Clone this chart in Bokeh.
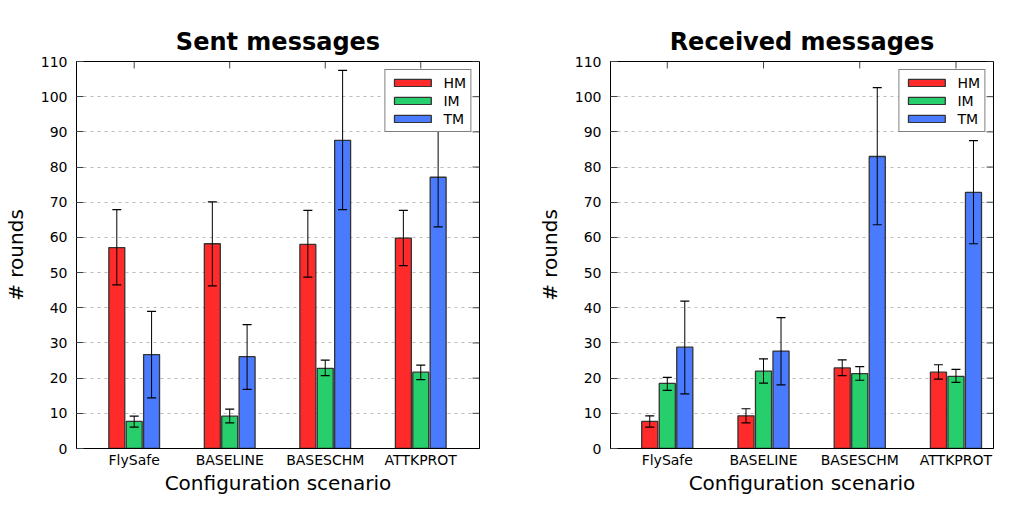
import numpy as np
from bokeh.plotting import figure
from bokeh.models import (ColumnDataSource, Range1d, FixedTicker, Whisker, LinearAxis,
                          TeeHead, Legend, LegendItem, Title)
from bokeh.layouts import row
from bokeh.embed import file_html
from bokeh.resources import INLINE

categories = ["FlySafe", "BASELINE", "BASESCHM", "ATTKPROT"]
series = ["HM", "IM", "TM"]

# Sent messages: mean, lower error, upper error
sent_HM = [57.1, 58.2, 58.0, 59.8]
sent_HM_lo = [46.5, 46.2, 48.7, 52.0]
sent_HM_hi = [67.9, 70.1, 67.7, 67.7]
sent_IM = [7.7, 9.2, 22.8, 21.7]
sent_IM_lo = [6.1, 7.3, 20.7, 19.6]
sent_IM_hi = [9.2, 11.2, 25.1, 23.7]
sent_TM = [26.7, 26.1, 87.6, 77.1]
sent_TM_lo = [14.4, 16.8, 67.9, 63.0]
sent_TM_hi = [39.0, 35.2, 107.5, 90.9]

# Received messages
recv_HM = [7.7, 9.3, 22.9, 21.7]
recv_HM_lo = [6.1, 7.3, 20.7, 19.7]
recv_HM_hi = [9.3, 11.3, 25.2, 23.8]
recv_IM = [18.5, 22.0, 21.3, 20.5]
recv_IM_lo = [16.5, 18.6, 19.4, 18.8]
recv_IM_hi = [20.2, 25.5, 23.3, 22.5]
recv_TM = [28.8, 27.7, 83.0, 72.8]
recv_TM_lo = [15.5, 18.1, 63.6, 58.2]
recv_TM_hi = [41.9, 37.2, 102.6, 87.5]

y_ticks = list(range(0, 111, 10))
x_label = "Configuration scenario"
y_label = "# rounds"

colors = {"HM": "#ff2a2a", "IM": "#26cf6b", "TM": "#4a7bff"}
offsets = {"HM": -0.182, "IM": 0.0, "TM": 0.182}
BAR_W = 0.167
FONT = "DejaVu Sans"


def make_plot(title, data, width, frame_w, x_start, x_end, title_offset=0):
    p = figure(width=width, height=497, output_backend="svg", toolbar_location=None,
               title=None,
               x_range=Range1d(x_start, x_end), y_range=Range1d(0, 110),
               min_border_left=74, min_border_right=width - 74 - frame_w,
               min_border_top=61, min_border_bottom=0)

    # empty spacer axis between title and frame (no ticks are drawn)
    spacer = LinearAxis(ticker=FixedTicker(ticks=[]), major_tick_out=20, major_tick_in=0,
                        major_label_standoff=0, axis_line_alpha=0,
                        major_tick_line_alpha=0, minor_tick_line_alpha=0)
    p.add_layout(spacer, "above")
    p.add_layout(Title(text=title, text_font=FONT, text_font_size="24px",
                       text_font_style="bold", text_color="black", align="center",
                       standoff=12, offset=title_offset), "above")

    pos = np.arange(1, len(categories) + 1)
    items = []
    for s in series:
        mean, lo, hi = data[s]
        src = ColumnDataSource(dict(x=pos + offsets[s], top=mean, lower=lo, upper=hi,
                                    cat=categories))
        r = p.vbar(x="x", top="top", bottom=0, width=BAR_W, source=src,
                   fill_color=colors[s], line_color="#333333", line_width=1.3)
        items.append(LegendItem(label=s, renderers=[r]))
        w = Whisker(base="x", lower="lower", upper="upper", source=src,
                    line_color="black", line_width=1, level="overlay",
                    upper_head=TeeHead(size=9, line_color="black", line_width=1.2),
                    lower_head=TeeHead(size=9, line_color="black", line_width=1.2))
        p.add_layout(w)

    # mirrored tick marks (top and right), drawn inward
    p.ray(x=x_end, y=y_ticks, length=7, length_units="screen", angle=np.pi,
          line_color="#444444", line_width=1)
    p.ray(x=pos, y=110, length=7, length_units="screen", angle=-np.pi / 2,
          line_color="#444444", line_width=1)

    # bottom axis
    xa = p.below[0]
    xa.ticker = FixedTicker(ticks=list(pos))
    xa.major_label_overrides = {int(i): c for i, c in zip(pos, categories)}
    xa.major_label_text_font = FONT
    xa.major_label_text_font_size = "14px"
    xa.major_label_text_color = "black"
    xa.major_label_standoff = 3
    xa.major_tick_in = 0
    xa.major_tick_out = 0
    xa.minor_tick_line_color = None
    xa.axis_line_color = "black"
    xa.axis_label = x_label
    xa.axis_label_text_font = FONT
    xa.axis_label_text_font_size = "20px"
    xa.axis_label_text_font_style = "normal"
    xa.axis_label_text_color = "black"
    xa.axis_label_standoff = 0

    # left axis
    ya = p.left[0]
    ya.ticker = FixedTicker(ticks=y_ticks)
    ya.major_label_text_font = FONT
    ya.major_label_text_font_size = "14px"
    ya.major_label_text_color = "black"
    ya.major_label_standoff = 9
    ya.major_tick_in = 7
    ya.major_tick_out = 0
    ya.minor_tick_line_color = None
    ya.axis_line_color = "black"
    ya.major_tick_line_color = "#444444"
    ya.axis_label = y_label
    ya.axis_label_text_font = FONT
    ya.axis_label_text_font_size = "20px"
    ya.axis_label_text_font_style = "normal"
    ya.axis_label_text_color = "black"
    ya.axis_label_standoff = 10

    p.xgrid.grid_line_color = None
    p.ygrid.ticker = FixedTicker(ticks=y_ticks[1:-1])
    p.ygrid.grid_line_color = "#bbbbbb"
    p.ygrid.grid_line_dash = "3 4"
    p.ygrid.grid_line_width = 1

    p.outline_line_color = "black"
    p.outline_line_width = 1
    p.outline_line_alpha = 1

    legend = Legend(items=items, location="top_right")
    legend.label_text_font = FONT
    legend.label_text_font_size = "14px"
    legend.label_text_color = "black"
    legend.glyph_width = 46
    legend.glyph_height = 9
    legend.spacing = 1
    legend.padding = 4
    legend.margin = 8
    legend.label_height = 17
    legend.label_standoff = 8
    legend.border_line_color = "black"
    legend.border_line_width = 1
    legend.background_fill_alpha = 1
    p.add_layout(legend)
    return p


sent = {"HM": (sent_HM, sent_HM_lo, sent_HM_hi),
        "IM": (sent_IM, sent_IM_lo, sent_IM_hi),
        "TM": (sent_TM, sent_TM_lo, sent_TM_hi)}
recv = {"HM": (recv_HM, recv_HM_lo, recv_HM_hi),
        "IM": (recv_IM, recv_IM_lo, recv_IM_hi),
        "TM": (recv_TM, recv_TM_lo, recv_TM_hi)}

p1 = make_plot("Sent messages", sent, 534, 405, 0.396, 4.615)
p2 = make_plot("Received messages", recv, 461, 385, 0.41, 4.39, title_offset=10)

layout = row(p1, p2)
open("out.html", "w").write(file_html(layout, INLINE))
